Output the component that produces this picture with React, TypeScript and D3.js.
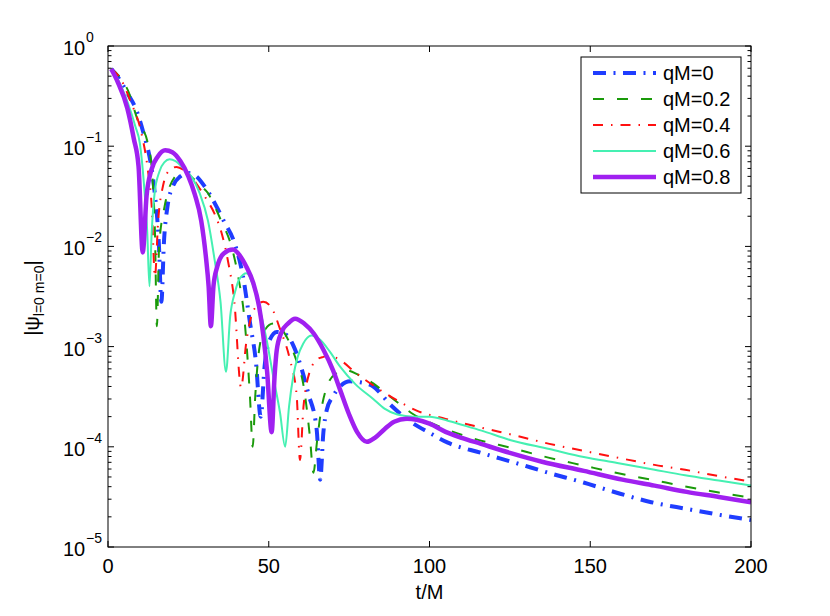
import * as d3 from 'd3';

// t/M and |psi|, one pair of arrays per qM
const tQ0 = [1, 3.1, 6, 8.8, 11.4, 12.9, 14.5, 15.8, 16.6, 17.4, 18.5, 20.2, 22.5, 25, 27.5, 30, 33.2, 36, 39.4, 42, 44.2, 46, 47.5, 48.7, 50, 52.5, 55.6, 57.8, 59.7, 62.3, 64.9, 66, 67, 68, 70, 72.2, 75.3, 78.5, 82.5, 88, 95, 100, 105.7, 116, 126.8, 137, 147.9, 158, 169, 180, 190, 200];
const vQ0 = [0.59, 0.49, 0.34, 0.23, 0.123, 7.9e-2, 3.5e-2, 1.1e-2, 2.8e-3, 1.1e-2, 2.5e-2, 4.0e-2, 5.0e-2, 5.4e-2, 5.0e-2, 4.0e-2, 2.7e-2, 1.8e-2, 1.07e-2, 5.0e-3, 1.7e-3, 7.1e-4, 2.0e-4, 6.3e-4, 1.1e-3, 1.4e-3, 1.3e-3, 1.0e-3, 6.8e-4, 3.4e-4, 1.5e-4, 4.7e-5, 1.4e-4, 2.3e-4, 3.2e-4, 4.0e-4, 4.5e-4, 4.4e-4, 4.0e-4, 2.6e-4, 1.7e-4, 1.38e-4, 1.1e-4, 8.7e-5, 6.9e-5, 5.5e-5, 4.4e-5, 3.5e-5, 2.8e-5, 2.4e-5, 2.1e-5, 1.86e-5];

const tQ2 = [1, 3.5, 6.2, 9.3, 12.4, 13.8, 14.6, 15.2, 15.9, 17.6, 19, 20.7, 23, 25, 27, 29, 31.1, 33.2, 35.2, 38.4, 40.5, 42.5, 44.2, 45, 45.8, 47.3, 49, 51.4, 54, 56.6, 58.7, 60.7, 62.8, 63.9, 65, 66, 68.5, 71, 74, 78, 82.5, 86, 89.9, 95.1, 101, 110.9, 126.8, 137, 147.9, 158, 169, 180, 190, 200];
const vQ2 = [0.59, 0.5, 0.36, 0.18, 0.107, 5.0e-2, 1.4e-2, 1.6e-3, 1.0e-2, 2.5e-2, 3.8e-2, 4.9e-2, 5.5e-2, 5.2e-2, 4.6e-2, 4.0e-2, 3.4e-2, 2.5e-2, 1.8e-2, 1.0e-2, 5.0e-3, 1.8e-3, 3.0e-4, 1.0e-4, 3.2e-4, 1.07e-3, 1.5e-3, 1.7e-3, 1.5e-3, 1.07e-3, 7.1e-4, 4.3e-4, 1.26e-4, 5.5e-5, 1.12e-4, 2.0e-4, 4.3e-4, 5.4e-4, 5.8e-4, 5.2e-4, 4.3e-4, 3.5e-4, 2.8e-4, 2.1e-4, 1.7e-4, 1.29e-4, 9.5e-5, 7.8e-5, 6.5e-5, 5.5e-5, 4.7e-5, 4.0e-5, 3.5e-5, 3.1e-5];

const tQ4 = [1, 4.1, 7, 10.4, 12.4, 13.6, 14.6, 15.6, 17.1, 19.2, 21.3, 23.5, 26, 28, 30.5, 33.2, 35.5, 37.3, 39.3, 41.4, 43, 44.2, 46, 48.3, 51, 53.5, 56.6, 58.7, 59.7, 60.8, 61.8, 64.9, 67, 69.1, 72, 77.3, 84.6, 90, 96, 105, 116.2, 127, 137.3, 148, 158.4, 170, 179.5, 190, 200];
const vQ4 = [0.59, 0.46, 0.28, 0.135, 5.8e-2, 2.5e-2, 5.0e-3, 1.8e-2, 4.0e-2, 5.8e-2, 6.2e-2, 5.8e-2, 4.9e-2, 4.0e-2, 3.0e-2, 2.1e-2, 1.3e-2, 7.2e-3, 2.8e-3, 3.9e-4, 1.1e-3, 1.8e-3, 2.5e-3, 2.8e-3, 2.4e-3, 1.5e-3, 7.4e-4, 3.2e-4, 7.4e-5, 2.5e-4, 4.3e-4, 7.4e-4, 7.9e-4, 8.1e-4, 7.4e-4, 5.4e-4, 3.7e-4, 2.9e-4, 2.3e-4, 1.9e-4, 1.55e-4, 1.29e-4, 1.07e-4, 9.1e-5, 7.8e-5, 6.6e-5, 5.9e-5, 5.1e-5, 4.5e-5];

const tQ6 = [1, 3, 6.2, 8.5, 9.9, 11.4, 12.2, 12.9, 13.6, 14.5, 16, 17.5, 19.2, 21, 23.5, 25.9, 28.5, 31.1, 33.2, 35, 36.7, 38, 39.5, 41, 43.1, 45, 47.3, 49.5, 51.4, 53.5, 55.1, 56.3, 57.6, 59, 60.7, 63.3, 66, 69, 72.2, 77, 82.5, 86, 90, 95, 100, 105.7, 110, 116.2, 125, 137.3, 148, 158.4, 170, 179.5, 190, 200];
const vQ6 = [0.59, 0.47, 0.27, 0.158, 0.107, 3.4e-2, 1.4e-2, 4.0e-3, 1.4e-2, 3.4e-2, 5.6e-2, 6.9e-2, 7.4e-2, 7.1e-2, 6.0e-2, 5.0e-2, 3.4e-2, 1.8e-2, 7.2e-3, 2.8e-3, 5.6e-4, 2.0e-3, 3.5e-3, 4.8e-3, 5.4e-3, 4.2e-3, 2.3e-3, 1.1e-3, 5.0e-4, 2.2e-4, 1.0e-4, 2.5e-4, 5.0e-4, 7.9e-4, 1.07e-3, 1.29e-3, 1.17e-3, 8.9e-4, 6.3e-4, 4.2e-4, 3.0e-4, 2.4e-4, 2.1e-4, 2.0e-4, 2.0e-4, 1.82e-4, 1.66e-4, 1.45e-4, 1.17e-4, 9.5e-5, 7.9e-5, 6.9e-5, 5.9e-5, 5.2e-5, 4.6e-5, 4.1e-5];

const tQ8 = [1, 3, 6, 8, 9.5, 10.8, 12, 13.5, 15.5, 17.8, 20, 22.5, 25, 27, 29, 30.5, 31.3, 32, 32.8, 34, 36, 38.9, 41, 43, 45.2, 47, 48.3, 49.5, 50.9, 51.8, 52.5, 54, 56, 58.2, 61, 64, 67, 70, 72.2, 75, 77.5, 80.5, 83, 86, 89, 92.9, 96, 100, 105, 110, 116, 125, 135, 148, 160, 170, 180, 190, 200];
const vQ8 = [0.59, 0.44, 0.24, 0.12, 6.3e-2, 8.7e-3, 3.2e-2, 5.8e-2, 7.9e-2, 9.1e-2, 8.7e-2, 7.1e-2, 5.0e-2, 3.3e-2, 1.8e-2, 7.6e-3, 4.0e-3, 1.6e-3, 4.0e-3, 6.3e-3, 8.5e-3, 9.3e-3, 8.1e-3, 6.3e-3, 4.3e-3, 2.5e-3, 1.3e-3, 5.6e-4, 1.4e-4, 5.0e-4, 9.3e-4, 1.4e-3, 1.7e-3, 1.9e-3, 1.7e-3, 1.35e-3, 9.3e-4, 5.8e-4, 3.7e-4, 2.1e-4, 1.4e-4, 1.12e-4, 1.23e-4, 1.5e-4, 1.78e-4, 1.9e-4, 1.86e-4, 1.7e-4, 1.41e-4, 1.23e-4, 1.07e-4, 8.7e-5, 7.1e-5, 5.75e-5, 4.7e-5, 4.1e-5, 3.55e-5, 3.16e-5, 2.8e-5];

const seriesNames = ['qM=0', 'qM=0.2', 'qM=0.4', 'qM=0.6', 'qM=0.8'];
const xTicks = [0, 50, 100, 150, 200];
const yTickExps = [0, -1, -2, -3, -4, -5];

const FONT = 'Liberation Sans, Arial, Helvetica, sans-serif';

export default function App() {
  const width = 830;
  const height = 616;
  const margin = { top: 46, right: 79, bottom: 69, left: 108 };
  const x0 = margin.left;
  const x1 = width - margin.right;
  const y0 = margin.top;
  const y1 = height - margin.bottom;

  const xScale = d3.scaleLinear().domain([0, 200]).range([x0, x1]);
  const yScale = d3.scaleLog().domain([1e-5, 1]).range([y1, y0]);

  const styles = [
    { color: '#1f3dff', width: 4, dash: '13,7.5,2,7.5' },
    { color: '#1a9a0a', width: 2, dash: '11,13' },
    { color: '#ff1010', width: 2, dash: '10,8,1.5,8' },
    { color: '#45f0b2', width: 2, dash: 'none' },
    { color: '#a020f0', width: 4.5, dash: 'none' },
  ];
  const ts = [tQ0, tQ2, tQ4, tQ6, tQ8];
  const vs = [vQ0, vQ2, vQ4, vQ6, vQ8];

  const line = d3
    .line<[number, number]>()
    .x((d) => xScale(d[0]))
    .y((d) => yScale(d[1]))
    .curve(d3.curveMonotoneX);

  const series = seriesNames.map((name, i) => ({
    name,
    ...styles[i],
    path: line(ts[i].map((t, j) => [t, vs[i][j]] as [number, number])) || '',
  }));

  const yAll = yScale.ticks();
  const isMajor = (v: number) => Math.abs(Math.log10(v) - Math.round(Math.log10(v))) < 1e-6;

  const legX = 581;
  const legY = 57;

  return (
    <svg
      width={width}
      height={height}
      style={{ position: 'absolute', left: 0, top: 0, background: '#fff' }}
      fontFamily={FONT}
    >
      <defs>
        <clipPath id="plot-clip">
          <rect x={x0} y={y0} width={x1 - x0} height={y1 - y0} />
        </clipPath>
      </defs>
      <rect x={0} y={0} width={width} height={height} fill="#fff" />

      {/* curves */}
      <g clipPath="url(#plot-clip)">
        {series.map((s) => (
          <path
            key={s.name}
            d={s.path}
            fill="none"
            stroke={s.color}
            strokeWidth={s.width}
            strokeDasharray={s.dash}
            strokeLinejoin="round"
          />
        ))}
      </g>

      {/* box */}
      <rect x={x0} y={y0} width={x1 - x0} height={y1 - y0} fill="none" stroke="#000" strokeWidth={1} />

      {/* x ticks */}
      {xTicks.map((t) => (
        <g key={'x' + t}>
          <line x1={xScale(t)} x2={xScale(t)} y1={y1} y2={y1 - 6} stroke="#000" />
          <line x1={xScale(t)} x2={xScale(t)} y1={y0} y2={y0 + 6} stroke="#000" />
          <text x={xScale(t)} y={y1 + 26} textAnchor="middle" fontSize={20}>
            {t}
          </text>
        </g>
      ))}

      {/* y ticks */}
      {yAll.map((v, i) => {
        const len = isMajor(v) ? 6 : 3.5;
        const yy = yScale(v);
        return (
          <g key={'y' + i}>
            <line x1={x0} x2={x0 + len} y1={yy} y2={yy} stroke="#000" />
            <line x1={x1} x2={x1 - len} y1={yy} y2={yy} stroke="#000" />
          </g>
        );
      })}
      {yTickExps.map((e) => {
        const yy = yScale(Math.pow(10, e));
        return (
          <g key={'yl' + e}>
            <text x={63} y={yy + 9} fontSize={20}>
              10
            </text>
            <text x={86} y={yy - 4} fontSize={14}>
              {e === 0 ? '0' : '\u2212' + Math.abs(e)}
            </text>
          </g>
        );
      })}

      {/* axis labels */}
      <text x={(x0 + x1) / 2} y={599} textAnchor="middle" fontSize={20}>
        t/M
      </text>
      <text transform={`translate(39, 298) rotate(-90)`} textAnchor="middle" fontSize={20}>
        |ψ
        <tspan fontSize={14} dy={5}>
          l=0 m=0
        </tspan>
        <tspan dy={-5}>|</tspan>
      </text>

      {/* legend */}
      <rect x={legX} y={legY} width={160} height={136} fill="#fff" stroke="#000" strokeWidth={1} />
      {series.map((s, i) => {
        const ly = legY + 16 + i * 26;
        return (
          <g key={'leg' + s.name}>
            <line
              x1={593}
              x2={656}
              y1={ly}
              y2={ly}
              stroke={s.color}
              strokeWidth={s.width}
              strokeDasharray={s.dash}
            />
            <text x={663} y={ly + 7} fontSize={20}>
              {s.name}
            </text>
          </g>
        );
      })}
    </svg>
  );
}
